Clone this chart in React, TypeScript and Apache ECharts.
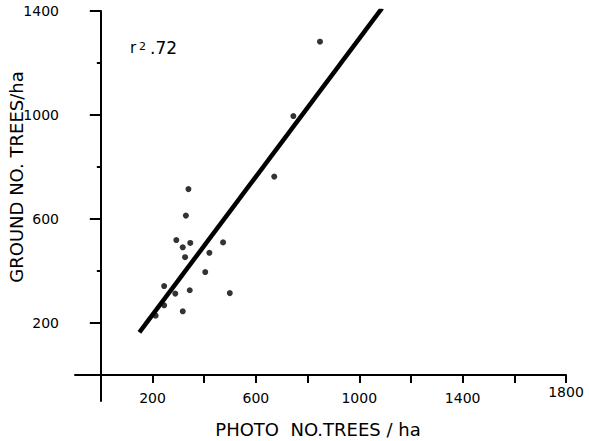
import React, { useEffect, useRef } from "react";
import * as echarts from "echarts";

const photoTrees = [339, 329, 292, 346, 317, 326, 420, 473, 404, 245, 288, 344, 499, 245, 317, 212, 671, 848, 745];
const groundTrees = [715, 613, 519, 508, 491, 453, 470, 510, 396, 342, 313, 326, 315, 268, 245, 228, 763, 1282, 996];
const regressionX = [149, 1088];
const regressionY = [164, 1411];
const xTickValues = [200, 400, 600, 800, 1000, 1200, 1400, 1600, 1800];
const xLabelValues = [200, 600, 1000, 1400, 1800];
const yMajorValues = [200, 600, 1000, 1400];
const yMinorValues = [400, 800, 1200];

const FONT = "DejaVu Sans";

export default function App() {
  const ref = useRef<HTMLDivElement>(null);
  useEffect(() => {
    if (!ref.current) return;
    const chart = echarts.init(ref.current, null, { renderer: "svg" });
    const points = photoTrees.map((x, i) => [x, groundTrees[i]]);
    const reg = regressionX.map((x, i) => [x, regressionY[i]]);
    chart.setOption({
      animation: false,
      backgroundColor: "#fff",
      grid: { left: 75, right: 23, top: 11, bottom: 40, containLabel: false, outerBoundsMode: "none" },
      xAxis: {
        type: "value",
        min: -100,
        max: 1800,
        axisLine: { onZero: true, onZeroAxisIndex: 0, lineStyle: { color: "#000", width: 2 } },
        axisTick: { customValues: xTickValues, length: 8, lineStyle: { color: "#000", width: 2 } },
        axisLabel: {
          customValues: xLabelValues,
          margin: -10,
          color: "#000",
          fontSize: 14,
          fontFamily: FONT,
          formatter: (v: number) => (v === 1800 ? "{hi|1800}" : String(v)),
          rich: { hi: { fontSize: 14, fontFamily: FONT, color: "#000", lineHeight: 2 } },
        },
        splitLine: { show: false },
      },
      yAxis: [
        {
          type: "value",
          min: -100,
          max: 1400,
          axisLine: { onZero: true, onZeroAxisIndex: 0, lineStyle: { color: "#000", width: 2 } },
          axisTick: { customValues: yMajorValues, length: 11, lineStyle: { color: "#000", width: 2 } },
          axisLabel: {
            customValues: yMajorValues,
            margin: 16,
            color: "#000",
            fontSize: 14,
            fontFamily: FONT,
            formatter: (v: number) => String(v),
          },
          splitLine: { show: false },
        },
        {
          type: "value",
          min: -100,
          max: 1400,
          position: "left",
          axisLine: { show: false, onZero: true, onZeroAxisIndex: 0 },
          axisTick: { customValues: yMinorValues, length: 4, lineStyle: { color: "#000", width: 2 } },
          axisLabel: { show: false },
          splitLine: { show: false },
        },
      ],
      series: [
        {
          type: "line",
          data: reg,
          symbol: "none",
          lineStyle: { color: "#000", width: 4.5 },
          silent: true,
        },
        {
          type: "scatter",
          data: points,
          symbol: "circle",
          symbolSize: 6,
          itemStyle: { color: "#000" },
        },
      ],
      graphic: [
        {
          type: "text",
          x: 16,
          y: 177,
          rotation: Math.PI / 2,
          style: {
            text: "GROUND NO. TREES/ha",
            fontSize: 18,
            fontFamily: FONT,
            fill: "#000",
            align: "center",
            verticalAlign: "middle",
          },
        },
        {
          type: "text",
          x: 318,
          y: 429,
          style: {
            text: "PHOTO  NO.TREES / ha",
            fontSize: 18,
            fontFamily: FONT,
            fill: "#000",
            align: "center",
            verticalAlign: "middle",
          },
        },
        {
          type: "text",
          x: 130,
          y: 48,
          style: { text: "r", fontSize: 15, fontFamily: FONT, fill: "#000", align: "left", verticalAlign: "middle" },
        },
        {
          type: "text",
          x: 139,
          y: 46,
          style: { text: "2", fontSize: 11, fontFamily: FONT, fill: "#000", align: "left", verticalAlign: "middle" },
        },
        {
          type: "text",
          x: 150,
          y: 48,
          style: { text: ".72", fontSize: 17, fontFamily: FONT, fill: "#000", align: "left", verticalAlign: "middle" },
        },
      ],
    });
    return () => chart.dispose();
  }, []);
  return (
    <div
      ref={ref}
      style={{ position: "fixed", left: 0, top: 0, width: 589, height: 441, background: "#fff" }}
    />
  );
}
